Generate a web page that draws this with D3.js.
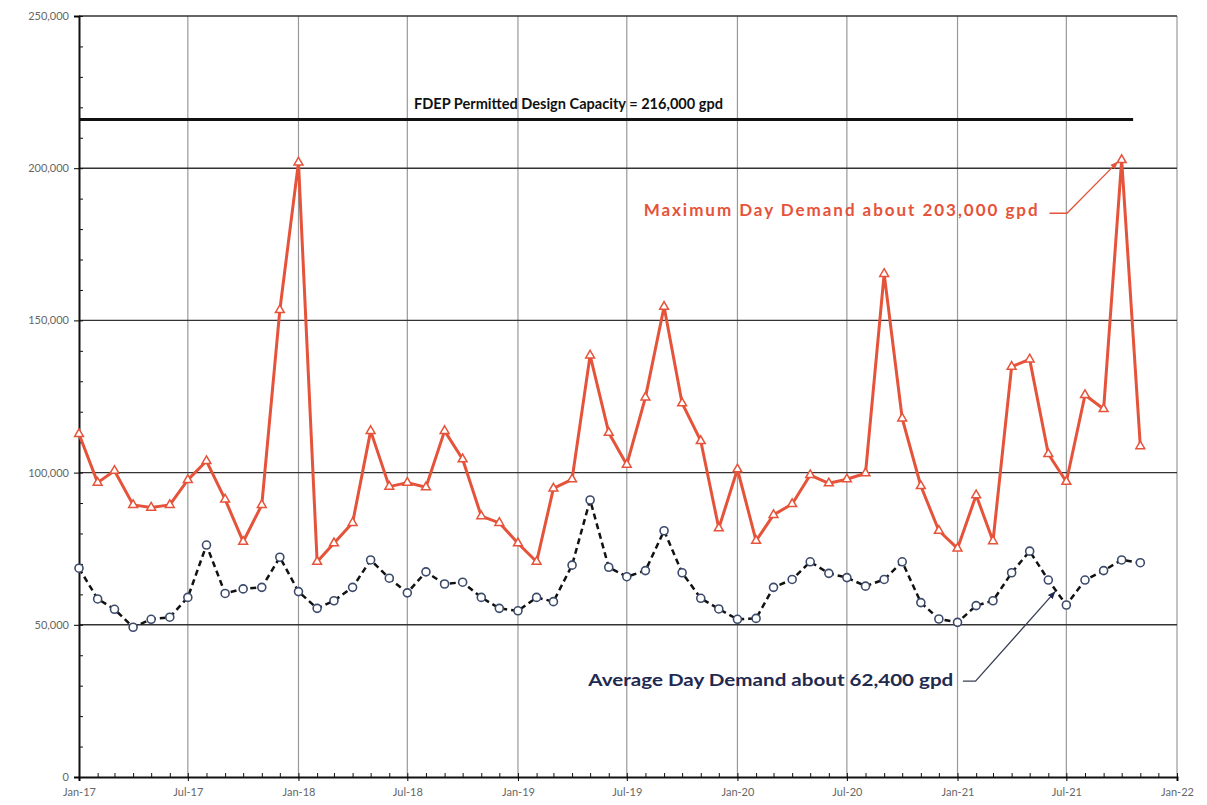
<!DOCTYPE html>
<html><head><meta charset="utf-8">
<script src="https://cdn.jsdelivr.net/npm/d3@7"></script>
<style>body{margin:0;background:#fff}svg{display:block}</style>
</head><body>
<svg id="c" width="1207" height="805"></svg>
<script>
const months = d3.range(59).map(i => new Date(2017, i, 1));
const maxDay = [112700,96700,100600,89400,88500,89400,97600,103800,91200,77300,89400,153400,
  201900,70700,76800,83500,113700,95400,96700,95200,113700,104400,85700,83500,
  76800,70700,94800,97800,138500,113100,102600,124700,154500,122800,110400,81700,
  101100,77600,86100,89700,99200,96500,97800,99800,165300,117800,95600,80900,
  75100,92600,77500,134800,137200,106100,97000,125500,120900,202700,108700];
const avgDay = [68600,58500,55100,49200,51800,52500,59000,76200,60300,61800,62300,72200,
  60900,55400,57900,62300,71300,65300,60500,67400,63400,64000,59000,55400,
  54600,59000,57600,69600,91000,68900,65800,67800,80900,67100,58700,55200,
  51800,52100,62300,64900,70700,66900,65500,62700,64900,70700,57300,51900,
  50800,56300,57900,67100,74200,64700,56500,64700,67800,71300,70400];
const yTicks = [0,50000,100000,150000,200000,250000];
const xTickLabels = ["Jan-17","Jul-17","Jan-18","Jul-18","Jan-19","Jul-19","Jan-20","Jul-20","Jan-21","Jul-21","Jan-22"];
const capacity = 216000;
const capText = "FDEP Permitted Design Capacity = 216,000 gpd";
const maxText = "Maximum Day Demand about 203,000 gpd";
const avgText = "Average Day Demand about 62,400 gpd";

const svg = d3.select("#c");
const x = d3.scaleTime().domain([new Date(2017,0,1), new Date(2022,0,1)]).range([79,1177]);
const y = d3.scaleLinear().domain([0,250000]).range([777,16]);
const xTickDates = d3.range(11).map(i => new Date(2017, i*6, 1));

// grid
svg.append("g").selectAll("line").data(xTickDates.slice(1)).join("line")
  .attr("x1", d=>x(d)).attr("x2", d=>x(d)).attr("y1", y(250000)).attr("y2", y(0))
  .attr("stroke","#999").attr("stroke-width",1.2);
svg.append("g").selectAll("line").data(yTicks.slice(1)).join("line")
  .attr("x1", x.range()[0]).attr("x2", x.range()[1]).attr("y1", d=>y(d)).attr("y2", d=>y(d))
  .attr("stroke","#333").attr("stroke-width",1.4);

// capacity line
svg.append("line").attr("x1", x(new Date(2017,0,1))).attr("x2", x(new Date(2021,9,20)))
  .attr("y1", y(capacity)).attr("y2", y(capacity)).attr("stroke","#111").attr("stroke-width",3);

// axes
const yAxis = svg.append("g").attr("transform",`translate(${x.range()[0]},0)`)
  .call(d3.axisLeft(y).tickValues(yTicks).tickFormat(d3.format(",")).tickSize(5));
yAxis.select(".domain").attr("stroke","#111").attr("stroke-width",2);
yAxis.selectAll("text").attr("fill","#666").attr("font-family","Lato, 'Open Sans', sans-serif").attr("font-size",11).attr("x",-10);
svg.append("g").attr("transform",`translate(${x.range()[0]},0)`)
  .call(d3.axisRight(y).tickValues(d3.range(0,250001,10000)).tickFormat("").tickSize(4))
  .call(g=>g.select(".domain").remove()).selectAll("line").attr("stroke","#111");

const xAxis = svg.append("g").attr("transform",`translate(0,${y(0)})`)
  .call(d3.axisBottom(x).tickValues(xTickDates).tickFormat((d,i)=>xTickLabels[i]).tickSize(4));
xAxis.select(".domain").attr("stroke","#111").attr("stroke-width",2);
xAxis.selectAll("text").attr("fill","#666").attr("font-family","Lato, 'Open Sans', sans-serif").attr("font-size",11).attr("dy","1.1em");
svg.append("g").attr("transform",`translate(0,${y(0)})`)
  .call(d3.axisTop(x).tickValues(d3.range(61).map(i=>new Date(2017,i,1))).tickFormat("").tickSize(4))
  .call(g=>g.select(".domain").remove()).selectAll("line").attr("stroke","#111");

// max day series
const red = "#e5533a";
svg.append("path").datum(maxDay).attr("fill","none").attr("stroke",red).attr("stroke-width",3)
  .attr("stroke-linejoin","round")
  .attr("d", d3.line().x((d,i)=>x(months[i])).y(d=>y(d)));
svg.append("g").selectAll("path").data(maxDay).join("path")
  .attr("transform",(d,i)=>`translate(${x(months[i])},${y(d)})`)
  .attr("d", d3.symbol(d3.symbolTriangle, 34))
  .attr("fill","#fff").attr("stroke",red).attr("stroke-width",1.5);

// avg day series
svg.append("path").datum(avgDay).attr("fill","none").attr("stroke","#111").attr("stroke-width",2.5)
  .attr("stroke-dasharray","6,4")
  .attr("d", d3.line().x((d,i)=>x(months[i])).y(d=>y(d)));
svg.append("g").selectAll("circle").data(avgDay).join("circle")
  .attr("cx",(d,i)=>x(months[i])).attr("cy",d=>y(d)).attr("r",4)
  .attr("fill","#fff").attr("stroke","#3c4a6b").attr("stroke-width",1.6);

// annotations
const font = "Lato, 'Open Sans', sans-serif";
svg.append("text").attr("x", x(new Date(2019,2,26))).attr("y", y(219300))
  .attr("text-anchor","middle").attr("font-family",font).attr("font-weight","bold")
  .attr("font-size",16).attr("fill","#111").attr("textLength",309).attr("lengthAdjust","spacingAndGlyphs").text(capText);

svg.append("text").attr("x", x(new Date(2019,6,29))).attr("y", y(184300))
  .attr("font-family",font).attr("font-weight","bold")
  .attr("font-size",17).attr("fill",red).attr("textLength",394).attr("lengthAdjust","spacing").text(maxText);

svg.append("text").attr("x", x(new Date(2019,3,28))).attr("y", y(30000))
  .attr("font-family",font).attr("font-weight","bold")
  .attr("font-size",17).attr("fill","#1f2a50").attr("textLength",365).attr("lengthAdjust","spacingAndGlyphs").text(avgText);

const defs = svg.append("defs");
[["arR",red],["arB","#1f2a50"]].forEach(([id,c])=>{
  defs.append("marker").attr("id",id).attr("viewBox","0 0 10 10").attr("refX",9).attr("refY",5)
    .attr("markerWidth",6).attr("markerHeight",6).attr("orient","auto")
    .append("path").attr("d","M0,1L10,5L0,9z").attr("fill",c);
});
const lp = d3.line().x(d=>x(d[0])).y(d=>y(d[1]));
svg.append("path").datum([[new Date(2021,5,3),185200],[new Date(2021,6,2),185200],[new Date(2021,8,24),202000]])
  .attr("d",lp).attr("fill","none").attr("stroke",red).attr("stroke-width",1.3).attr("marker-end","url(#arR)");
svg.append("path").datum([[new Date(2021,0,10),31500],[new Date(2021,0,31),31500],[new Date(2021,5,12),60800]])
  .attr("d",lp).attr("fill","none").attr("stroke","#3a3f55").attr("stroke-width",1.3).attr("marker-end","url(#arB)");
</script>
</body></html>
